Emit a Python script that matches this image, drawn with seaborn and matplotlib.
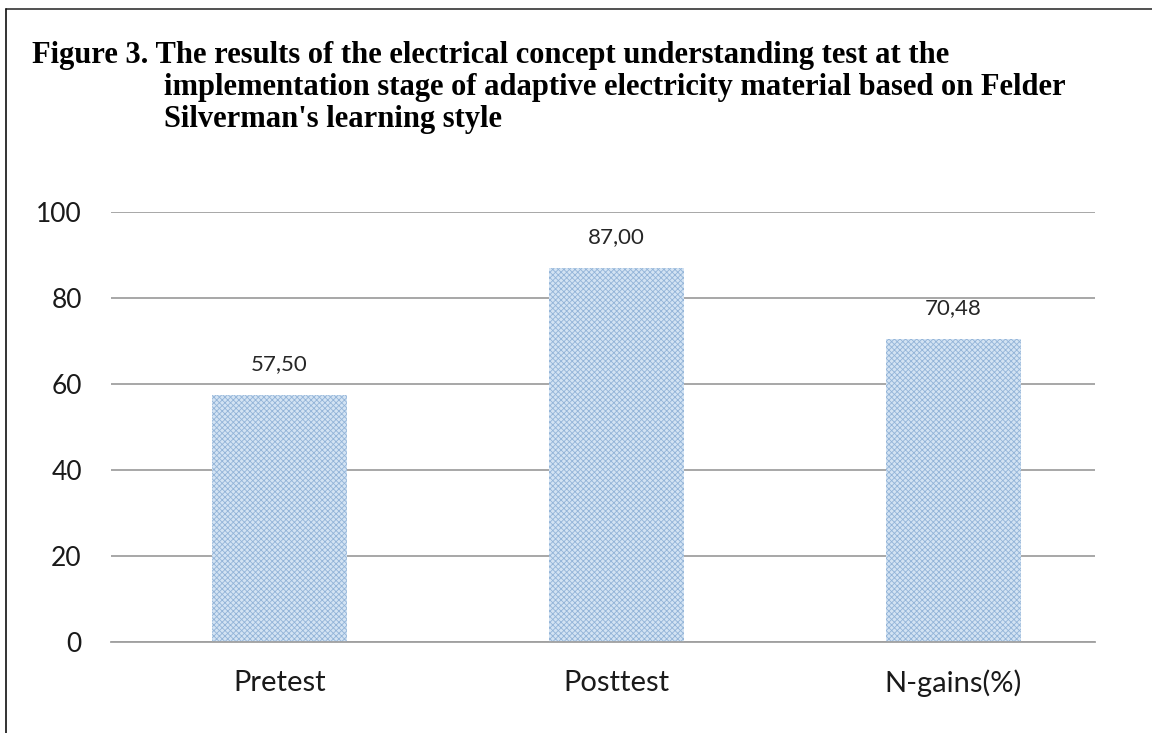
"""Bar chart: concept understanding test results."""
import matplotlib
matplotlib.use("Agg")
import matplotlib.pyplot as plt
import pandas as pd
import seaborn as sns
from matplotlib.lines import Line2D

categories = ["Pretest", "Posttest", "N-gains(%)"]
scores = [57.50, 87.00, 70.48]
yticks = [0, 20, 40, 60, 80, 100]

title_lines = [
    "Figure 3. The results of the electrical concept understanding test at the",
    "implementation stage of adaptive electricity material based on Felder",
    "Silverman's learning style",
]

sns.set_style("white")
plt.rcParams["font.family"] = ["Lato", "DejaVu Sans"]
plt.rcParams["hatch.linewidth"] = 0.6

W, H = 1152, 733
fig = plt.figure(figsize=(W / 100, H / 100), dpi=100)
ax = fig.add_axes([111 / W, 1 - 642 / H, (1095 - 111) / W, (642 - 212) / H])

df = pd.DataFrame({"cat": categories, "val": scores})
sns.barplot(data=df, x="cat", y="val", ax=ax, color="#d3e3f3", width=0.40,
            saturation=1, linewidth=0)

for p in ax.patches:
    p.set_hatch("xxxxxx")
    p.set_edgecolor("#93b4d8")
    p.set_linewidth(0)

for i, v in enumerate(scores):
    ax.annotate(f"{v:.2f}".replace(".", ","), (i, v), xytext=(0, 22),
                textcoords="offset points", ha="center", va="center",
                fontsize=16, color="#262626")

ax.set_xlim(-0.5, 2.42)
ax.set_ylim(0, 100)
ax.set_yticks(yticks)
ax.yaxis.grid(True, color="#a0a0a0", linewidth=1.3)
ax.set_axisbelow(True)
for s in ["top", "right", "left"]:
    ax.spines[s].set_visible(False)
ax.spines["bottom"].set_color("#a0a0a0")
ax.spines["bottom"].set_linewidth(1.3)
ax.tick_params(axis="y", length=0, pad=21, labelsize=19, labelcolor="#1a1a1a")
ax.tick_params(axis="x", length=0, pad=20, labelsize=21, labelcolor="#1a1a1a")
ax.set_xlabel("")
ax.set_ylabel("")

# title lines
tfont = dict(family=["Liberation Serif", "DejaVu Serif"], weight="bold",
             fontsize=22, color="black", va="baseline", ha="left")
fig.text(32 / W, 1 - 63 / H, title_lines[0], **tfont)
fig.text(164 / W, 1 - 95 / H, title_lines[1], **tfont)
fig.text(164 / W, 1 - 127 / H, title_lines[2], **tfont)

# page frame (top and left edges)
fig.add_artist(Line2D([6 / W, 1], [1 - 9 / H, 1 - 9 / H], color="#333333",
                      linewidth=1.2, transform=fig.transFigure))
fig.add_artist(Line2D([6 / W, 6 / W], [0, 1 - 9 / H], color="#111111",
                      linewidth=1.2, transform=fig.transFigure))

fig.savefig("out.png", dpi=100)
